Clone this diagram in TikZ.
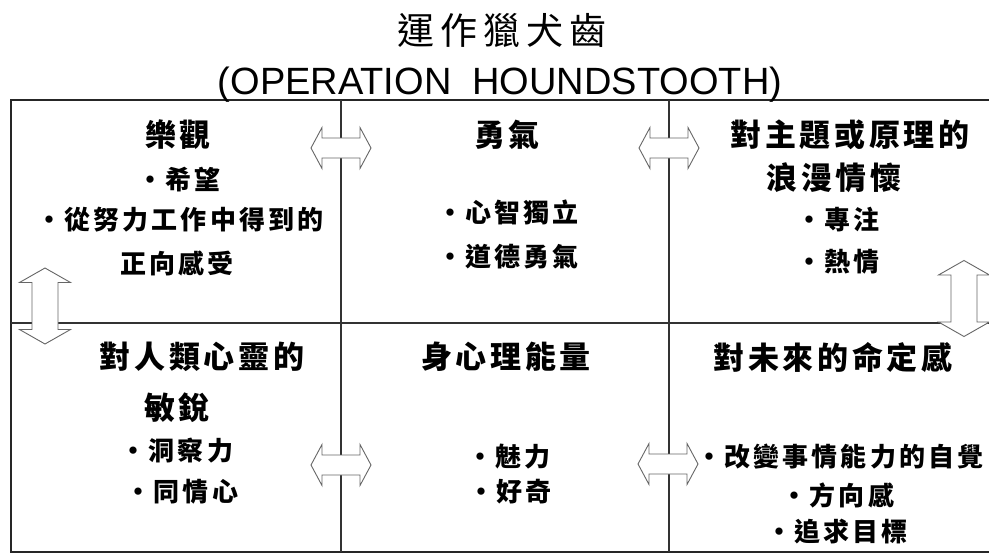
\documentclass[tikz,border=0pt]{standalone}
\usepackage{fontspec}
\newfontfamily\cjk[LetterSpace=12]{Noto Sans CJK TC}
\newfontfamily\cjkT[LetterSpace=16]{Noto Sans CJK TC}
\newfontfamily\latsans{Liberation Sans}
\newcommand\bu{\makebox[26pt][c]{•}\hspace{2pt}}
\newcommand\harr[1]{\draw[arr,shift={(#1)}] (-30,0) -- (-19,-20.5) -- (-19,-10) -- (19,-10) -- (19,-20.5) -- (30,0) -- (19,20.5) -- (19,10) -- (-19,10) -- (-19,20.5) -- cycle;}
\newcommand\varr[1]{\draw[arr,shift={(#1)}] (0,-38) -- (25.5,-23.5) -- (13,-23.5) -- (13,23.5) -- (25.5,23.5) -- (0,38) -- (-25.5,23.5) -- (-13,23.5) -- (-13,-23.5) -- (-25.5,-23.5) -- cycle;}
\tikzset{
  outer/.style={draw=black!85, line width=2.2pt},
  inner/.style={draw=black!80, line width=1.1pt},
  arr/.style={draw=black!60, fill=white, line width=0.9pt, line join=miter},
  hd/.style={inner sep=0pt, font={\cjk\bfseries\fontsize{31pt}{36pt}\selectfont}},
  bl/.style={inner sep=0pt, font={\cjk\bfseries\fontsize{26pt}{30pt}\selectfont}},
  ttl/.style={inner sep=0pt, font={\cjkT\fontsize{37pt}{42pt}\selectfont}},
  sub/.style={inner sep=0pt, anchor=base, font={\latsans\fontsize{38pt}{44pt}\selectfont}}
}
\begin{document}
\begin{tikzpicture}[x=1pt,y=-1pt]
\useasboundingbox (0,0) rectangle (989,554);
\fill[white] (0,0) rectangle (989,554);
% frame
\draw[outer] (989,100) -- (11,100) -- (11,552) -- (989,552);
\draw[inner] (11,323) -- (989,323);
\draw[inner] (341,100) -- (341,552);
\draw[inner] (669,100) -- (669,552);
% arrow anchors
\coordinate (a1) at (341,148);
\coordinate (a2) at (669,148);
\coordinate (a3) at (341,465);
\coordinate (a4) at (668,464);
\coordinate (v1) at (45,306);
\coordinate (v2) at (964,298.5);
\harr{a1}\harr{a2}\harr{a3}\harr{a4}
\varr{v1}\varr{v2}
% titles
\node[ttl] (title) at (502,30) {運作獵犬齒};
\node[sub] (subtitle) at (500,94) {(OPERATION\ \ HOUNDSTOOTH)};
% cell 1
\node[hd] (c1h) at (178,135) {樂觀};
\node[bl] (c1a) at (179,180) {\bu 希望};
\node[bl] (c1b) at (180,220) {\bu 從努力工作中得到的};
\node[bl] (c1c) at (177,263) {正向感受};
% cell 2
\node[hd] (c2h) at (507,135) {勇氣};
\node[bl] (c2a) at (508,212) {\bu 心智獨立};
\node[bl] (c2b) at (508,257) {\bu 道德勇氣};
% cell 3
\node[hd] (c3h) at (850,135) {對主題或原理的};
\node[hd] (c3i) at (834,178) {浪漫情懷};
\node[bl] (c3a) at (838,220) {\bu 專注};
\node[bl] (c3b) at (838,262) {\bu 熱情};
% cell 4
\node[hd] (c4h) at (202,357) {對人類心靈的};
\node[hd] (c4i) at (177,408) {敏銳};
\node[bl] (c4a) at (177,451) {\bu 洞察力};
\node[bl] (c4b) at (182,492) {\bu 同情心};
% cell 5
\node[hd] (c5h) at (506,357) {身心理能量};
\node[bl] (c5a) at (509,457) {\bu 魅力};
\node[bl] (c5b) at (510,492) {\bu 好奇};
% cell 6
\node[hd] (c6h) at (833,357) {對未來的命定感};
\node[bl] (c6a) at (840,457) {\bu 改變事情能力的自覺};
\node[bl] (c6b) at (838,495) {\bu 方向感};
\node[bl] (c6c) at (837,532) {\bu 追求目標};
\end{tikzpicture}
\end{document}
